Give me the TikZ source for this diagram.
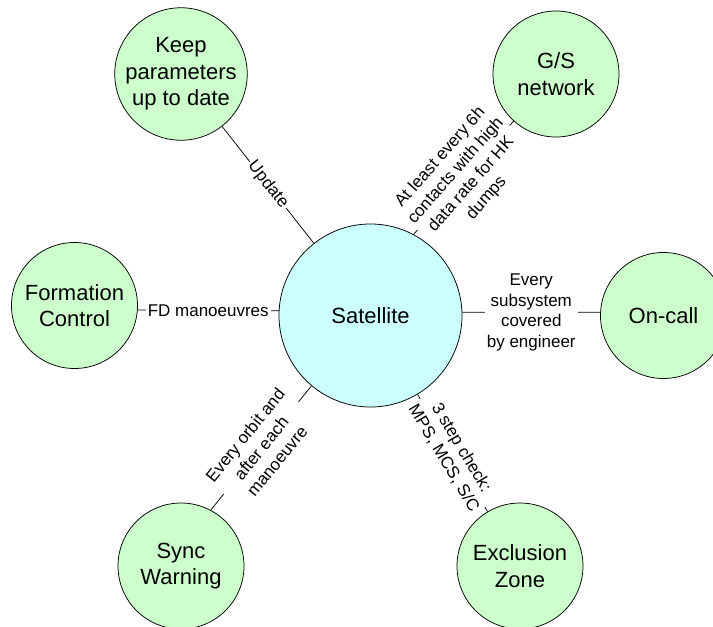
\documentclass[tikz,border=0pt]{standalone}
\usepackage{fontspec}
\setmainfont{Liberation Sans}
\usetikzlibrary{backgrounds}
\definecolor{topicgreen}{RGB}{204,255,204}
\definecolor{satcyan}{RGB}{204,255,255}

\begin{document}
\begin{tikzpicture}[x=1pt,y=-1pt,
  topic/.style={circle,draw=black,line width=0.75pt,fill=topicgreen,minimum size=126pt,inner sep=0pt,align=center,font=\fontsize{22}{26.5}\selectfont},
  hub/.style={topic,fill=satcyan,minimum size=183pt},
  link/.style={black,line width=0.75pt},
  tag/.style={fill=white,inner sep=2pt,align=center,font=\fontsize{17}{20.5}\selectfont}]
\useasboundingbox (0,0) rectangle (713,627);

\node [hub] (sat) at (370.5,315.5) {Satellite};
\node [topic] (keep) at (181,74) {Keep\\parameters\\up to date};
\node [topic] (gs) at (556,74) {G/S\\network};
\node [topic] (form) at (74.5,305.5) {Formation\\Control};
\node [topic] (oncall) at (663.5,315.5) {On-call};
\node [topic] (sync) at (181,566) {Sync\\Warning};
\node [topic] (excl) at (520,566) {Exclusion\\Zone};

\begin{scope}[on background layer]
\draw [link] (keep) -- node [tag,sloped] {Update} (sat);
\draw [link] (sat.62) -- node [tag,sloped] {At least every 6h\\contacts with high\\data rate for HK\\dumps} (gs.228);
\draw [link] (form.356) -- node [tag] {FD manoeuvres} (sat.177);
\draw [link] (sat.2) -- node [tag] {Every\\subsystem\\covered\\by engineer} (oncall.177);
\draw [link] (sync.62) -- node [tag,sloped] {Every orbit and\\after each\\manoeuvre} (sat.230);
\draw [link] (sat) -- node [tag,sloped] {3 step check:\\MPS, MCS, S/C} (excl);
\end{scope}
\end{tikzpicture}
\end{document}
